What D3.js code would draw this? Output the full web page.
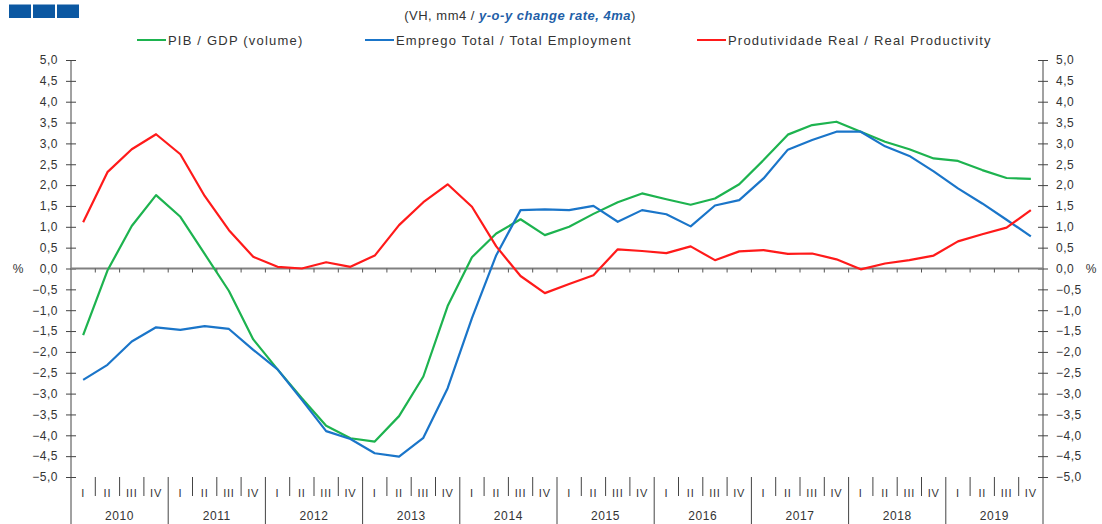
<!DOCTYPE html>
<html>
<head>
<meta charset="utf-8">
<script src="https://cdn.jsdelivr.net/npm/d3@7"></script>
<style>
  body { margin: 0; background: #fff; }
  svg text { font-family: "Liberation Sans", Arial, sans-serif; fill: #333; }
  .smooth { opacity: 0.99; }
</style>
</head>
<body>
<div class="wrapper"></div>
<script>
var years = [2010, 2011, 2012, 2013, 2014, 2015, 2016, 2017, 2018, 2019];
var quarterNames = ["I", "II", "III", "IV"];
var yTicks = [-5, -4.5, -4, -3.5, -3, -2.5, -2, -1.5, -1, -0.5, 0, 0.5, 1, 1.5, 2, 2.5, 3, 3.5, 4, 4.5, 5];

// PIB / GDP (volume)
var gdp = [-1.60, -0.05, 1.02, 1.76, 1.24, 0.35, -0.54, -1.70, -2.42, -3.11, -3.77, -4.07,
  -4.15, -3.54, -2.59, -0.90, 0.27, 0.84, 1.18, 0.80, 1.00, 1.31, 1.59, 1.80,
  1.66, 1.53, 1.68, 2.02, 2.60, 3.21, 3.44, 3.52, 3.28, 3.04, 2.86, 2.64, 2.58, 2.36, 2.17, 2.15];
// Emprego Total / Total Employment
var employment = [-2.67, -2.31, -1.75, -1.41, -1.47, -1.38, -1.45, -1.95, -2.42, -3.15, -3.90, -4.09,
  -4.43, -4.51, -4.06, -2.87, -1.19, 0.32, 1.40, 1.42, 1.40, 1.50, 1.12, 1.40,
  1.30, 1.01, 1.51, 1.64, 2.16, 2.85, 3.08, 3.28, 3.28, 2.93, 2.70, 2.33, 1.92, 1.56, 1.17, 0.77];
// Produtividade Real / Real Productivity
var productivity = [1.11, 2.31, 2.86, 3.22, 2.74, 1.74, 0.92, 0.28, 0.04, 0.00, 0.15, 0.04,
  0.31, 1.04, 1.59, 2.02, 1.48, 0.53, -0.18, -0.59, -0.37, -0.16, 0.46, 0.42,
  0.37, 0.53, 0.20, 0.41, 0.44, 0.35, 0.36, 0.22, -0.02, 0.12, 0.20, 0.31, 0.65, 0.82, 0.98, 1.40];

var series = [
  {name: "PIB / GDP (volume)", values: gdp, color: "#1db34f", lx: 137},
  {name: "Emprego Total / Total Employment", values: employment, color: "#1a75c9", lx: 365},
  {name: "Produtividade Real / Real Productivity", values: productivity, color: "#ff1a1a", lx: 697}
];

(function() {
  var width = 1102, height = 524;
  var mLeft = 71, mRight = 1043, mTop = 60, mBottom = 477;

  var periods = [];
  years.forEach(function(yr) {
    quarterNames.forEach(function(q) { periods.push(yr + " " + q); });
  });

  var svg = d3.select(".wrapper").append("svg")
    .attr("width", width)
    .attr("height", height);

  var x = d3.scaleBand().domain(periods).range([mLeft, mRight]);
  var y = d3.scaleLinear().domain([-5, 5]).range([mBottom, mTop]);

  // logo squares
  svg.append("g").selectAll("rect")
    .data([0, 1, 2])
    .enter().append("rect")
      .attr("x", function(d) { return 9 + d * 24; })
      .attr("y", 4.5)
      .attr("width", 22)
      .attr("height", 13.5)
      .attr("fill", "#0b58a2");

  // title
  var title = svg.append("text")
    .attr("x", 520)
    .attr("y", 20)
    .attr("text-anchor", "middle")
    .attr("font-size", 13)
    .attr("letter-spacing", 0.5);
  title.append("tspan").text("(VH, mm4  / ");
  title.append("tspan").attr("font-weight", "bold").attr("font-style", "italic")
    .style("fill", "#1f5fa8").text("y-o-y change rate, 4ma");
  title.append("tspan").text(")");

  // legend
  var legend = svg.append("g").selectAll("g")
    .data(series)
    .enter().append("g")
      .attr("transform", function(d) { return "translate(" + d.lx + ",40)"; });
  legend.append("line")
    .attr("x1", 0).attr("x2", 29)
    .attr("stroke", function(d) { return d.color; })
    .attr("stroke-width", 2);
  legend.append("text")
    .attr("x", 31)
    .attr("dy", "0.35em")
    .attr("font-size", 13)
    .attr("letter-spacing", 1.2)
    .text(function(d) { return d.name; });

  function fmt(d) { return d3.format(".1f")(d).replace(".", ","); }

  // y axes on both sides
  var yl = svg.append("g")
    .attr("transform", "translate(" + mLeft + ",0)")
    .call(d3.axisLeft(y).tickValues(yTicks).tickFormat(fmt).tickSize(5).tickPadding(8));
  var yr = svg.append("g")
    .attr("transform", "translate(" + mRight + ",0)")
    .call(d3.axisRight(y).tickValues(yTicks).tickFormat(fmt).tickSize(5).tickPadding(8));
  [yl, yr].forEach(function(ax) {
    ax.select(".domain").remove();
    ax.selectAll(".tick line").attr("x1", -5).attr("x2", 5).attr("stroke", "#444");
    ax.selectAll(".tick text").attr("font-size", 12).attr("letter-spacing", 0.5).attr("fill", "#333");
  });
  svg.append("line").attr("x1", mLeft).attr("x2", mLeft).attr("y1", mTop).attr("y2", height)
    .attr("stroke", "#444");
  svg.append("line").attr("x1", mRight).attr("x2", mRight).attr("y1", mTop).attr("y2", height)
    .attr("stroke", "#444");

  svg.append("text").attr("x", 18).attr("y", y(0)).attr("dy", "0.35em")
    .attr("text-anchor", "middle").attr("font-size", 12).text("%");
  svg.append("text").attr("x", 1091).attr("y", y(0)).attr("dy", "0.35em")
    .attr("text-anchor", "middle").attr("font-size", 12).text("%");

  // zero line with quarter ticks
  svg.append("line")
    .attr("x1", mLeft).attr("x2", mRight)
    .attr("y1", y(0)).attr("y2", y(0))
    .attr("stroke", "#808080").attr("stroke-width", 2);
  svg.append("g").selectAll("line")
    .data(periods.slice(1))
    .enter().append("line")
      .attr("x1", function(d) { return x(d); })
      .attr("x2", function(d) { return x(d); })
      .attr("y1", y(0)).attr("y2", y(0) + 4)
      .attr("stroke", "#555");

  // bottom category axis
  var xa = svg.append("g");
  xa.selectAll("line")
    .data(periods.slice(1))
    .enter().append("line")
      .attr("x1", function(d) { return x(d); })
      .attr("x2", function(d) { return x(d); })
      .attr("y1", mBottom)
      .attr("y2", function(d, i) { return (i + 1) % 4 == 0 ? height : mBottom + 19; })
      .attr("stroke", "#444");
  xa.append("g").attr("class", "smooth").selectAll("text")
    .data(periods)
    .enter().append("text")
      .attr("x", function(d) { return x(d) + x.bandwidth() / 2; })
      .attr("y", 497)
      .attr("text-anchor", "middle")
      .attr("font-size", 11)
      .attr("letter-spacing", 0.8)
      .attr("fill", "#444")
      .text(function(d) { return d.split(" ")[1]; });
  xa.selectAll("text.yr")
    .data(years)
    .enter().append("text")
      .attr("class", "yr")
      .attr("x", function(d) { return x(d + " I") + 2 * x.bandwidth(); })
      .attr("y", 520)
      .attr("text-anchor", "middle")
      .attr("font-size", 12)
      .attr("letter-spacing", 0.6)
      .text(function(d) { return d; });

  // lines
  var line = d3.line()
    .x(function(d, i) { return x(periods[i]) + x.bandwidth() / 2; })
    .y(function(d) { return y(d); });

  svg.append("g").selectAll("path")
    .data(series)
    .enter().append("path")
      .attr("d", function(d) { return line(d.values); })
      .attr("fill", "none")
      .attr("stroke", function(d) { return d.color; })
      .attr("stroke-width", 2.2)
      .attr("stroke-linejoin", "round");
})();
</script>
</body>
</html>
